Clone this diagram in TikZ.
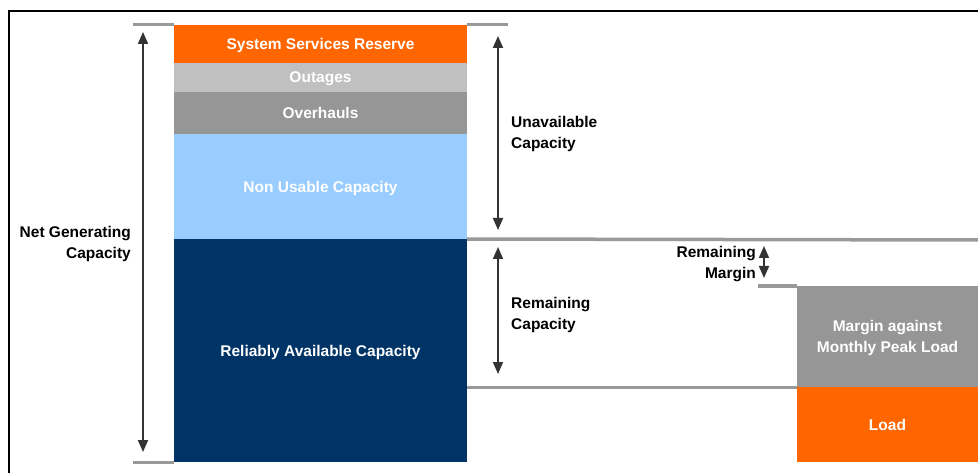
\documentclass[tikz,border=0pt]{standalone}
\usepackage{fontspec}
\setmainfont{Liberation Sans}
\usetikzlibrary{arrows.meta}
\definecolor{cOrange}{HTML}{FF6600}
\definecolor{cLightGray}{HTML}{C0C0C0}
\definecolor{cGray}{HTML}{969696}
\definecolor{cLightBlue}{HTML}{99CCFF}
\definecolor{cNavy}{HTML}{003366}
\definecolor{cLine}{HTML}{999999}
\definecolor{cArrow}{HTML}{333333}
\tikzset{
  blk/.style={anchor=north west, inner sep=0pt, outer sep=0pt, draw=none,
    text=white, font=\bfseries\fontsize{15.5}{21}\selectfont, align=center,
    text depth=0pt},
  lbl/.style={inner sep=0pt, text=black, font=\bfseries\fontsize{15.5}{21}\selectfont,
    text depth=0pt},
  gline/.style={draw=cLine, line width=3.5pt},
  tick/.style={draw=cLine, line width=3pt},
  dimarrow/.style={draw=cArrow, line width=1.8pt,
    {Triangle[width=10pt,length=12pt]}-{Triangle[width=10pt,length=12pt]}},
}
\begin{document}
\begin{tikzpicture}[x=1pt,y=-1pt]
\useasboundingbox (0,0) rectangle (978,473);
\fill[white] (0,0) rectangle (978,473);
% frame
\draw[black, line width=2pt] (9,474) -- (9,11) -- (979,11);

% stacked column
\node[blk, fill=cOrange, minimum width=293pt, minimum height=38pt] (ssr) at (174,25) {System Services Reserve};
\node[blk, fill=cLightGray, minimum width=293pt, minimum height=29pt] (out) at (174,63) {Outages};
\node[blk, fill=cGray, minimum width=293pt, minimum height=42pt] (ovh) at (174,92) {Overhauls};
\node[blk, fill=cLightBlue, minimum width=293pt, minimum height=105pt] (nuc) at (174,134) {Non Usable Capacity};
\node[blk, fill=cNavy, minimum width=293pt, minimum height=223pt] (rac) at (174,239) {Reliably Available Capacity};

% right column
\node[blk, fill=cGray, minimum width=181pt, minimum height=101pt] (mpl) at (797,286) {Margin against\\Monthly Peak Load};
\node[blk, fill=cOrange, minimum width=181pt, minimum height=75pt] (load) at (797,387) {Load};

% level lines
\coordinate (tl1) at (133,25);
\coordinate (tr2) at (508,25);
\coordinate (bl1) at (133,462);
\coordinate (lvlA) at (978,240);
\coordinate (lvlB) at (797,387.5);
\coordinate (lvlC) at (758,286);
\draw[tick] (tl1) -- (ssr.north west);
\draw[tick] (ssr.north east) -- (tr2);
\draw[tick] (bl1) -- (rac.south west);
\draw[gline] (rac.north east) -- (lvlA);
\draw[gline] (rac.east |- lvlB) -- (lvlB);
\draw[gline] (lvlC) -- (mpl.north west);

% dimension arrows
\coordinate (a1t) at (143,32);
\coordinate (a1b) at (143,452);
\coordinate (a2t) at (498,36);
\coordinate (a2b) at (498,230);
\coordinate (a3t) at (498,247);
\coordinate (a3b) at (498,374);
\coordinate (a4t) at (764,246);
\coordinate (a4b) at (764,278);
\draw[dimarrow] (a1t) -- (a1b);
\draw[dimarrow] (a2t) -- (a2b);
\draw[dimarrow] (a3t) -- (a3b);
\draw[dimarrow] (a4t) -- (a4b);

% labels
\node[lbl, anchor=east, align=right] (ngc) at (131,242) {Net Generating\\Capacity};
\node[lbl, anchor=west, align=left] (uc) at (511,132) {Unavailable\\Capacity};
\node[lbl, anchor=west, align=left] (rc) at (511,313) {Remaining\\Capacity};
\node[lbl, anchor=east, align=right] (rm) at (756,262) {Remaining\\Margin};
\end{tikzpicture}
\end{document}
